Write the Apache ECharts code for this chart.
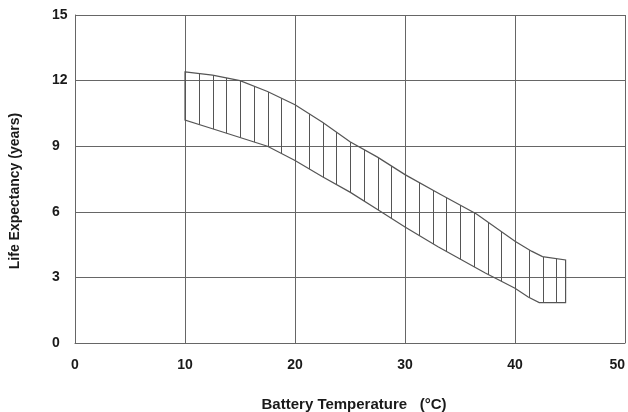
<!DOCTYPE html>
<html>
<head>
<meta charset="utf-8">
<script src="https://cdn.jsdelivr.net/npm/echarts@6/dist/echarts.min.js"></script>
<style>
html,body{margin:0;padding:0;background:#fff;}
#chart{width:628px;height:412px;}
</style>
</head>
<body>
<div id="chart"></div>
<script>
// Temperature axis ticks (°C) and life axis ticks (years)
const xTicks = [0, 10, 20, 30, 40, 50];
const yTicks = [0, 3, 6, 9, 12, 15];

// Upper boundary of the life-expectancy band
const upperTemp = [10, 12.5, 15, 17.5, 20, 22.5, 25, 27.5, 30, 33.2, 36.5, 40, 41.5, 42.5, 44.6];
const upperLife = [12.4, 12.25, 12.0, 11.5, 10.9, 10.1, 9.2, 8.5, 7.7, 6.8, 5.9, 4.65, 4.2, 3.95, 3.8];

// Lower boundary of the band
const lowerTemp = [10, 12.5, 15, 17.5, 20, 22.5, 25, 27.5, 30, 33, 37.3, 40, 41.2, 42.2, 44.6];
const lowerLife = [10.2, 9.8, 9.4, 9.0, 8.35, 7.6, 6.9, 6.1, 5.3, 4.4, 3.2, 2.5, 2.1, 1.85, 1.85];

const hatchStep = 1.25; // °C between vertical hatch lines

const chart = echarts.init(document.getElementById('chart'), null, {renderer: 'canvas'});

const gridLeft = 75, gridRight = 3, gridTop = 15, gridBottom = 69;
const xMin = xTicks[0], xMax = xTicks[xTicks.length - 1];
const pxPerUnit = (628 - gridLeft - gridRight) / (xMax - xMin);

// Build vertical hatch pattern: period = 4 hatch steps (5 °C)
const period = Math.round(pxPerUnit * hatchStep * 4);
const pc = document.createElement('canvas');
pc.width = period; pc.height = 4;
const pctx = pc.getContext('2d');
pctx.fillStyle = '#555';
for (let k = 0; k < 4; k++) {
  pctx.fillRect(Math.round(k * pxPerUnit * hatchStep), 0, 1, 4);
}

const lineColor = '#666';
const textColor = '#1a1a1a';
const font = 'Liberation Sans, Arial, sans-serif';

function buildOption(patternX) {
  return {
    backgroundColor: '#fff',
    animation: false,
    grid: {left: gridLeft, right: gridRight, top: gridTop, bottom: gridBottom, containLabel: false, outerBoundsMode: 'none'},
    xAxis: {
      type: 'value', min: xMin, max: xMax, interval: 10,
      name: 'Battery Temperature   (°C)',
      nameLocation: 'middle', nameGap: 54,
      nameTextStyle: {fontFamily: font, fontWeight: 'bold', fontSize: 15, color: textColor, padding: [0, 0, 0, 8]},
      axisLine: {show: true, lineStyle: {color: lineColor, width: 1}},
      axisTick: {show: false},
      axisLabel: {margin: 15, fontFamily: font, fontWeight: 'bold', fontSize: 14, color: textColor, alignMaxLabel: 'right'},
      splitLine: {show: true, lineStyle: {color: lineColor, width: 1}}
    },
    yAxis: {
      type: 'value', min: yTicks[0], max: yTicks[yTicks.length - 1], interval: 3,
      name: 'Life Expectancy (years)',
      nameLocation: 'middle', nameGap: 53, nameRotate: 90,
      nameTextStyle: {fontFamily: font, fontWeight: 'bold', fontSize: 14, color: textColor, padding: [0, 24, 0, 0]},
      axisLine: {show: true, lineStyle: {color: lineColor, width: 1}},
      axisTick: {show: false},
      axisLabel: {margin: 23, align: 'left', fontFamily: font, fontWeight: 'bold', fontSize: 14, color: textColor},
      splitLine: {show: true, lineStyle: {color: lineColor, width: 1}}
    },
    series: [{
      type: 'custom',
      coordinateSystem: 'cartesian2d',
      silent: true,
      data: [[upperTemp[0], upperLife[0]]],
      renderItem: function (params, api) {
        const top = upperTemp.map((t, i) => api.coord([t, upperLife[i]]));
        const bottom = lowerTemp.map((t, i) => api.coord([t, lowerLife[i]])).reverse();
        return {
          type: 'polygon',
          shape: {points: top.concat(bottom)},
          style: {
            fill: {image: pc, repeat: 'repeat', x: patternX, y: 0},
            stroke: '#555',
            lineWidth: 1.2
          }
        };
      }
    }]
  };
}

chart.setOption(buildOption(0));
const startPx = chart.convertToPixel({xAxisIndex: 0}, upperTemp[0]);
chart.setOption(buildOption(Math.round(startPx)));
</script>
</body>
</html>
